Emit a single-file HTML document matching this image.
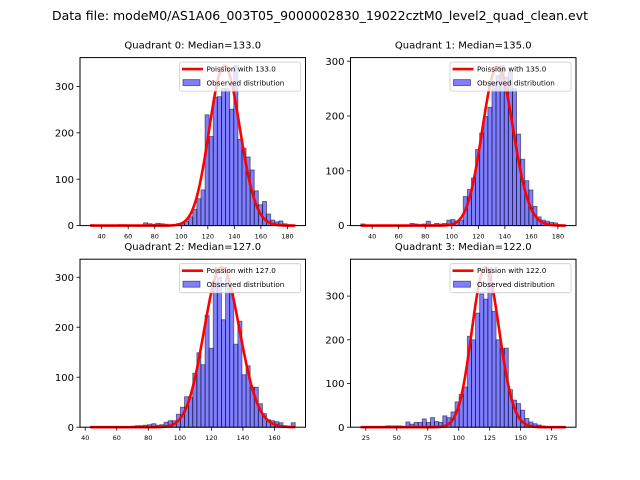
<!DOCTYPE html>
<html><head><meta charset="utf-8"><style>
body{margin:0;background:#fff;}
svg{display:block;font-family:"DejaVu Sans","Liberation Sans",sans-serif;}
</style></head><body>
<svg id="fig" width="640" height="480" viewBox="0 0 640 480" xmlns="http://www.w3.org/2000/svg">
<rect width="640" height="480" fill="#fff"/>
<text x="320" y="20" font-size="12.5" text-anchor="middle" textLength="536" lengthAdjust="spacingAndGlyphs">Data file: modeM0/AS1A06_003T05_9000002830_19022cztM0_level2_quad_clean.evt</text>
</svg>
<script>
// ---- data ----
const quadNames = ["Quadrant 0", "Quadrant 1", "Quadrant 2", "Quadrant 3"];
const medians = [133.0, 135.0, 127.0, 122.0];
const binStart = [31.4, 31.4, 43.2, 20.9];
const binWidth = [3.09, 3.09, 2.6, 3.31];
const counts0 = [2,1,1,1,0,1,1,2,2,1,0,1,1,6,4,3,5,4,3,1,2,4,5,9,19,35,58,77,239,192,277,278,296,295,251,345,186,167,148,120,75,45,52,25,12,8,10,4,2,1];
const counts1 = [3,0,1,0,1,0,1,0,1,1,0,1,4,3,2,3,8,2,4,3,4,10,11,8,10,53,66,87,139,169,199,216,262,274,292,271,280,250,167,121,82,65,35,16,10,8,6,5,2,1];
const counts2 = [1,0,1,1,1,1,1,1,1,1,2,3,3,4,5,7,4,5,10,13,13,26,40,61,60,108,149,125,224,158,290,300,215,300,270,166,212,105,123,80,80,47,27,15,13,11,9,3,1,9];
const counts3 = [1,0,1,1,0,0,3,3,3,3,2,12,7,11,11,19,11,22,13,11,26,22,35,58,75,92,208,200,261,305,293,365,265,200,180,181,86,62,54,39,20,12,8,5,3,1,1,0,0,0];
const curveScale = [9974, 8446, 9040, 10133];
const yTicks = [[0,100,200,300],[0,100,200,300],[0,100,200,300],[0,100,200,300]];
const xTicks = [[40,60,80,100,120,140,160,180],[40,60,80,100,120,140,160,180],[40,60,80,100,120,140,160],[25,50,75,100,125,150,175]];
const allCounts = [counts0, counts1, counts2, counts3];

const NS = "http://www.w3.org/2000/svg";
const svg = document.getElementById("fig");
function mk(tag, attrs, parent) {
  const e = document.createElementNS(NS, tag);
  for (const k in attrs) e.setAttribute(k, attrs[k]);
  (parent || svg).appendChild(e);
  return e;
}
function lgamma(z){
  return (z-0.5)*Math.log(z) - z + 0.5*Math.log(2*Math.PI) + 1/(12*z) - 1/(360*z*z*z);
}
function poisson(k, lam){ return Math.exp(k*Math.log(lam) - lam - lgamma(k+1)); }

const boxes = [[80,57.6],[350.5,57.6],[80,259.2],[350.5,259.2]];
const W = 225.5, H = 168;

for (let q = 0; q < 4; q++) {
  const [L, T] = boxes[q];
  const cts = allCounts[q];
  const s0 = binStart[q], bw = binWidth[q], n = cts.length;
  const s1 = s0 + n*bw, rng = s1 - s0;
  const xmin = s0 - 0.05*rng, xmax = s1 + 0.05*rng;
  const lam = medians[q], sc = curveScale[q];
  const curveX = [], curveY = [];
  for (let i = 0; i <= 120; i++) {
    const v = s0 + rng*i/120;
    curveX.push(v); curveY.push(sc*poisson(v, lam));
  }
  const ymax = 1.05*Math.max(Math.max(...cts), Math.max(...curveY));
  const X = v => L + (v - xmin)/(xmax - xmin)*W;
  const Y = c => T + H - c/ymax*H;

  const g = mk("g", {});
  
  

  const title = mk("text", {x: L + W/2, y: T - 9, "font-size": "10", "text-anchor": "middle"}, g);
  
  
  title.textContent = quadNames[q] + ": Median=" + medians[q].toFixed(1);

  const bars = mk("g", {}, g);
  
  
  for (let i = 0; i < n; i++) {
    const x0 = X(s0 + i*bw), x1 = X(s0 + (i+1)*bw);
    const r = mk("rect", {x: x0, y: Y(cts[i]), width: x1 - x0, height: Y(0) - Y(cts[i]),
      fill: "#0000ff", "fill-opacity": "0.5", stroke: "#000", "stroke-opacity": "0.5", "stroke-width": "0.9"}, bars);
    
    
  }
  let d = "";
  for (let i = 0; i < curveX.length; i++) d += (i ? "L" : "M") + X(curveX[i]).toFixed(2) + "," + Y(curveY[i]).toFixed(2);
  const path = mk("path", {d: d, fill: "none", stroke: "#ff0000", "stroke-width": "2.6", "stroke-linejoin": "round"}, g);
  
  

  const fr = mk("rect", {x: L, y: T, width: W, height: H, fill: "none", stroke: "#000", "stroke-width": "1"}, g);
  
  

  for (const t of yTicks[q]) {
    const y = Y(t);
    const tk = mk("line", {x1: L - 3.5, x2: L, y1: y, y2: y, stroke: "#000", "stroke-width": "0.8"}, g);
    
    
    const tl = mk("text", {x: L - 6, y: y + 3.6, "font-size": "10", "text-anchor": "end"}, g);
    
    
    tl.textContent = t;
  }
  for (const t of xTicks[q]) {
    const x = X(t);
    const tk = mk("line", {x1: x, x2: x, y1: T + H, y2: T + H + 3.5, stroke: "#000", "stroke-width": "0.8"}, g);
    
    
    const tl = mk("text", {x: x, y: T + H + 13, "font-size": "6.5", "text-anchor": "middle"}, g);
    
    
    tl.textContent = t;
  }
  const lg = mk("g", {}, g);
  
  
  const lx = L + W - 126, ly = T + 4.5;
  mk("rect", {x: lx, y: ly, width: 121, height: 29, rx: 2, fill: "#fff", "fill-opacity": "0.8", stroke: "#ccc", "stroke-width": "0.8"}, lg);
  const ll = mk("line", {x1: lx + 2.5, x2: lx + 23.5, y1: ly + 7, y2: ly + 7, stroke: "#ff0000", "stroke-width": "2.6"}, lg);
  
  
  const t1 = mk("text", {x: lx + 27, y: ly + 9.5, "font-size": "7.2"}, lg);
  
  
  t1.textContent = "Poission with " + medians[q].toFixed(1);
  const lp = mk("rect", {x: lx + 3.5, y: ly + 17.5, width: 17, height: 6, fill: "#0000ff", "fill-opacity": "0.5", stroke: "#000", "stroke-opacity": "0.5", "stroke-width": "0.9"}, lg);
  
  
  const t2 = mk("text", {x: lx + 27, y: ly + 23.2, "font-size": "7.2"}, lg);
  
  
  t2.textContent = "Observed distribution";
}
</script>
</body></html>
